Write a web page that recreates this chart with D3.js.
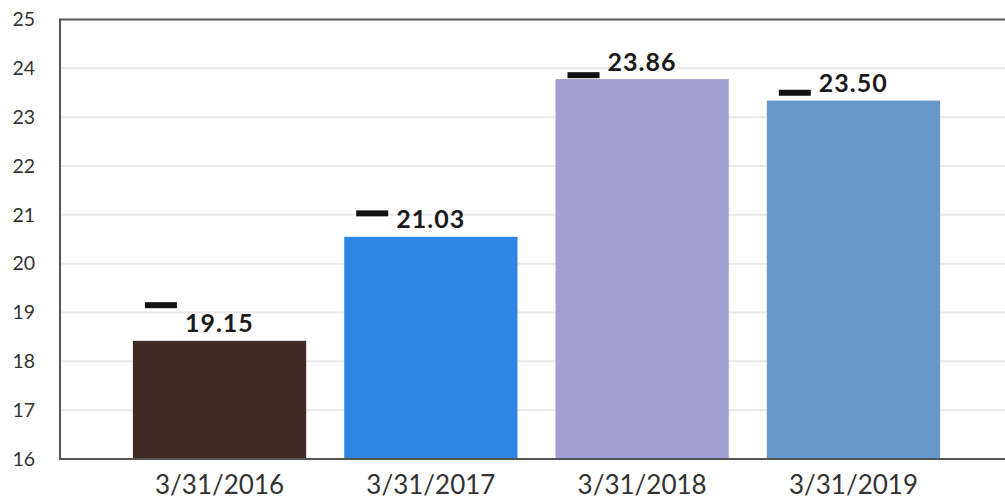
<!DOCTYPE html>
<html>
<head>
<meta charset="utf-8">
<script src="https://cdn.jsdelivr.net/npm/d3@7"></script>
<style>
  html, body { margin: 0; padding: 0; background: #fff; }
  svg { display: block; }
  text { font-family: Lato, "Open Sans", sans-serif; }
</style>
</head>
<body>
<div id="chart"></div>
<script>
// Period-end dates shown on the x axis
const categories = ["3/31/2016", "3/31/2017", "3/31/2018", "3/31/2019"];
// Bar heights per period
const barValues = [18.42, 20.55, 23.78, 23.34];
// Marker values, also printed as the labels
const markerValues = [19.15, 21.03, 23.86, 23.50];
const markerLabels = ["19.15", "21.03", "23.86", "23.50"];
// Fill per bar
const barColors = ["#3e2c22", "#2e87e3", "#a09fce", "#6698cb"];
// Y axis ticks
const yTicks = [16, 17, 18, 19, 20, 21, 22, 23, 24, 25];

const W = 1005, H = 502;
const margin = { left: 60, right: -8, top: 19.5, bottom: 43 };

const svg = d3.select("#chart").append("svg")
  .attr("width", W).attr("height", H);

const x = d3.scaleBand()
  .domain(categories)
  .range([margin.left, W - margin.right])
  .paddingInner(0.18)
  .paddingOuter(0.345);

const y = d3.scaleLinear()
  .domain([16, 25])
  .range([H - margin.bottom, margin.top]);

// Horizontal gridlines
svg.append("g")
  .selectAll("line")
  .data(yTicks.slice(1, -1))
  .join("line")
  .attr("x1", margin.left)
  .attr("x2", W - margin.right)
  .attr("y1", d => y(d))
  .attr("y2", d => y(d))
  .attr("stroke", "#e9e9e9")
  .attr("stroke-width", 2);

// Bars
svg.append("g")
  .selectAll("rect")
  .data(categories)
  .join("rect")
  .attr("x", d => x(d))
  .attr("width", x.bandwidth())
  .attr("y", (d, i) => y(barValues[i]))
  .attr("height", (d, i) => y(16) - y(barValues[i]))
  .attr("fill", (d, i) => barColors[i]);

// Frame: left, top and bottom edges
const frame = svg.append("g").attr("stroke", "#555").attr("stroke-width", 2).attr("fill", "none");
frame.append("line").attr("x1", margin.left).attr("x2", margin.left)
  .attr("y1", y(25)).attr("y2", y(16));
frame.append("line").attr("x1", margin.left - 1).attr("x2", W)
  .attr("y1", y(25)).attr("y2", y(25));
frame.append("line").attr("x1", margin.left - 1).attr("x2", W)
  .attr("y1", y(16)).attr("y2", y(16));

// Y axis labels
const yAxis = d3.axisLeft(y).tickValues(yTicks).tickSize(0).tickPadding(25);
const gy = svg.append("g").attr("transform", `translate(${margin.left},0)`).call(yAxis);
gy.select(".domain").remove();
gy.selectAll("text")
  .style("font-family", "Lato, sans-serif")
  .attr("font-size", 19.5)
  .attr("fill", "#333");

// X axis labels
const xAxis = d3.axisBottom(x).tickSize(0).tickPadding(17);
const gx = svg.append("g").attr("transform", `translate(0,${y(16)})`).call(xAxis);
gx.select(".domain").remove();
gx.selectAll("text")
  .style("font-family", "Lato, sans-serif")
  .attr("font-size", 26)
  .attr("fill", "#333");

// Value markers
svg.append("g")
  .selectAll("rect")
  .data(categories)
  .join("rect")
  .attr("x", d => x(d) + 12)
  .attr("y", (d, i) => y(markerValues[i]) - 3)
  .attr("width", 32).attr("height", 6)
  .attr("fill", "#111");

// Value labels, set just above each bar
svg.append("g")
  .selectAll("text")
  .data(categories)
  .join("text")
  .attr("x", d => x(d) + 52)
  .attr("y", (d, i) => y(barValues[i]) - 8.5)
  .attr("font-size", 25)
  .attr("font-weight", "bold")
  .attr("letter-spacing", 1)
  .attr("fill", "#1a1a1a")
  .text((d, i) => markerLabels[i]);
</script>
</body>
</html>
